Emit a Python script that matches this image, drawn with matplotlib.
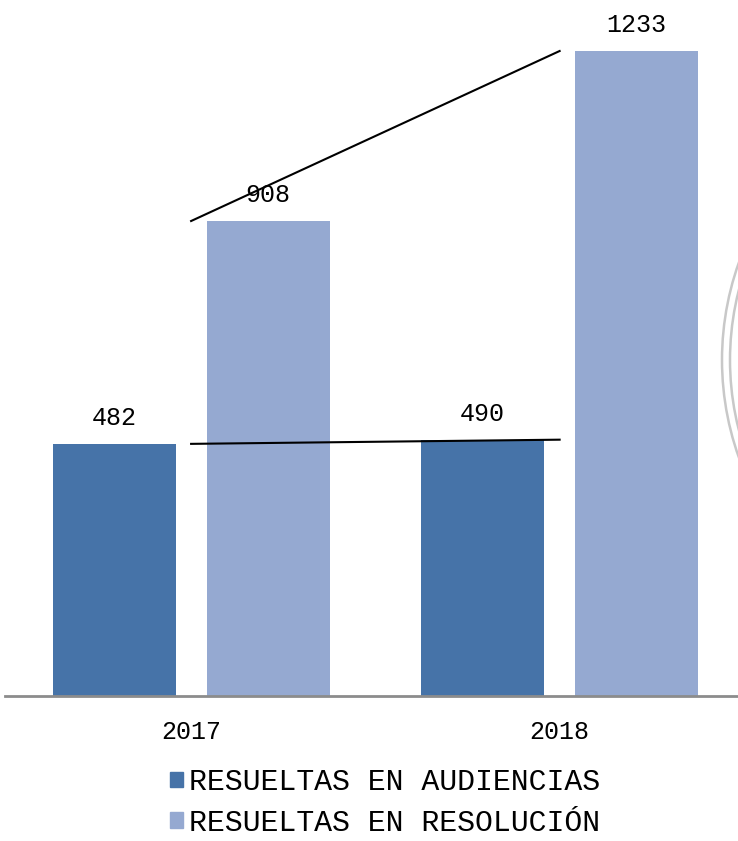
import matplotlib.pyplot as plt
from matplotlib.patches import Patch, Arc
import numpy as np

# datos
years = ['2017', '2018']
audiencias = [482, 490]
resolucion = [908, 1233]
series_names = ['RESUELTAS EN AUDIENCIAS', 'RESUELTAS EN RESOLUCIÓN']

c_aud = '#4673A8'
c_res = '#95A9D1'
font = 'Liberation Mono'

fig = plt.figure(figsize=(7.38, 8.41), dpi=100)
ax = fig.add_axes([5 / 738, 1 - 696 / 841, 1 - 5 / 738, 696 / 841])

x = np.arange(len(years))
w = 0.334
off = 0.209
ax.bar(x - off, audiencias, w, color=c_aud, zorder=2)
ax.bar(x + off, resolucion, w, color=c_res, zorder=2)

# etiquetas de valor
for xi, v in zip(x - off, audiencias):
    ax.text(xi, v + 50, str(v), ha='center', va='center', fontsize=18, family=font)
for xi, v in zip(x + off, resolucion):
    ax.text(xi, v + 50, str(v), ha='center', va='center', fontsize=18, family=font)

# lineas de tendencia entre años
ax.plot(x, resolucion, color='black', lw=1.5, zorder=3)
ax.plot(x, audiencias, color='black', lw=1.5, zorder=3)

ax.set_xlim(-0.505, 1.484)
ax.set_ylim(0, 1330.5)
for s in ['top', 'right', 'left']:
    ax.spines[s].set_visible(False)
ax.spines['bottom'].set_color('#8C8C8C')
ax.spines['bottom'].set_linewidth(2)
ax.set_yticks([])
ax.set_xticks(x)
ax.set_xticklabels(years, fontsize=18, family=font)
ax.tick_params(axis='x', length=0, pad=17)

handles = [Patch(color=c_aud), Patch(color=c_res)]
fig.legend(handles, series_names, loc='upper left',
           bbox_to_anchor=(170 / 738, 1 - 768 / 841), frameon=False,
           prop={'family': font, 'size': 21.5}, handlelength=0.43, handleheight=0.43,
           handletextpad=0.2, labelspacing=0.42, borderpad=0, borderaxespad=0)

# marca de agua cortada a la derecha
for r in [2.9, 2.82]:
    fig.add_artist(Arc((10.12, 4.81), 2 * r, 2 * r, transform=fig.dpi_scale_trans,
                       color='#C8C8C8', lw=1.8))

fig.savefig('out.png', dpi=100)
